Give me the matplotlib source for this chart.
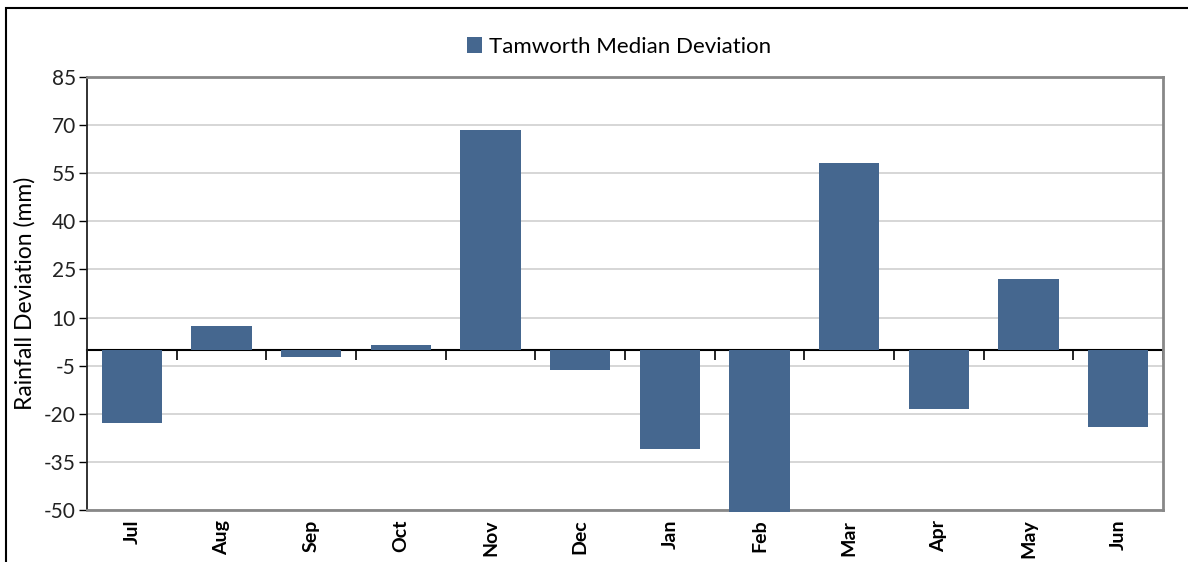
import matplotlib
matplotlib.use("Agg")
import matplotlib.pyplot as plt
from matplotlib.patches import Rectangle
import numpy as np

months = ["Jul", "Aug", "Sep", "Oct", "Nov", "Dec", "Jan", "Feb", "Mar", "Apr", "May", "Jun"]
deviation = [-23.0, 7.3, -2.3, 1.3, 68.5, -6.2, -31.0, -50.6, 58.3, -18.6, 22.1, -24.2]
series_name = "Tamworth Median Deviation"
yticks = [-50, -35, -20, -5, 10, 25, 40, 55, 70, 85]

plt.rcParams['font.family'] = ['Lato', 'DejaVu Sans']
plt.rcParams['axes.unicode_minus'] = False

fig = plt.figure(figsize=(11.88, 5.62), dpi=100)
ax = fig.add_axes([87/1188, 1 - 510/562, (1163-87)/1188, (510-77)/562])

x = np.arange(len(months))
bars = ax.bar(x, deviation, width=0.67, color='#45678F', label=series_name, zorder=3, clip_on=False)

ymin, ymax = -50, 85
ax.set_ylim(ymin, ymax)
ax.set_xlim(-0.5, len(months) - 0.5)
ax.set_yticks(yticks)
ax.tick_params(axis='y', labelsize=15, length=6, width=1, color='black', pad=2, labelcolor='#222222')
ax.yaxis.grid(True, color='#d0d0d0', lw=1.2, zorder=0)
ax.set_axisbelow(True)

ax.set_xticks(x)
ax.set_xticklabels(months, rotation=90, fontsize=14, fontweight='bold')
ax.tick_params(axis='x', length=0, pad=7)

for s in ['top', 'right', 'bottom']:
    ax.spines[s].set_color('#888888')
    ax.spines[s].set_linewidth(2)
ax.spines['left'].set_color('#222222')
ax.spines['left'].set_linewidth(1.3)

# zero axis line with boundary ticks
zero_frac = (0 - ymin) / (ymax - ymin)
sec = ax.secondary_xaxis(zero_frac)
sec.xaxis.set_ticks_position('bottom')
sec.set_xticks(np.arange(-0.5, len(months), 1.0))
sec.set_xticklabels([])
sec.tick_params(axis='x', direction='out', length=7, width=1.2, color='black')
sec.spines['bottom'].set_color('black')
sec.spines['bottom'].set_linewidth(1.5)
sec.spines['top'].set_visible(False)

ax.set_ylabel("Rainfall Deviation (mm)", fontsize=16.5)
ax.yaxis.label.set_va('center')
ax.yaxis.set_label_coords(-0.0576, 0.5)

leg = fig.legend(handles=[bars], labels=[series_name], loc='center', bbox_to_anchor=(0.521, 1 - 47/562),
                 frameon=False, fontsize=16, handlelength=0.7, handleheight=0.7, handletextpad=0.3)

fig.patches.append(Rectangle((6/1188, -0.1), 2, (562-8)/562 + 0.1, transform=fig.transFigure,
                             fill=False, edgecolor='black', lw=1.5))

fig.savefig("out.png", dpi=100)
